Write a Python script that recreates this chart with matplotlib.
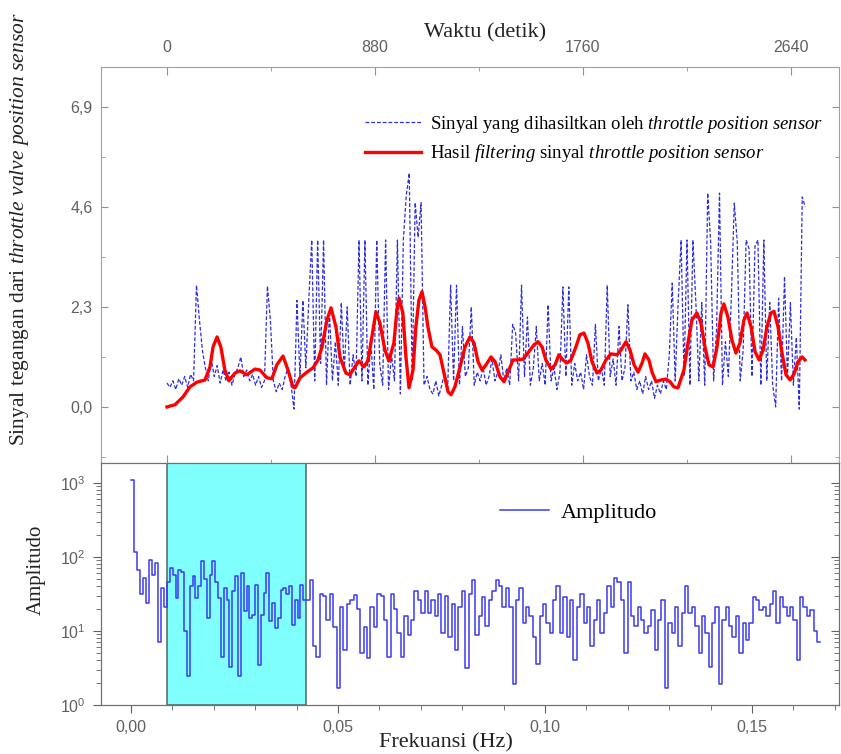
import numpy as np
import matplotlib.pyplot as plt
from matplotlib.ticker import MultipleLocator, FuncFormatter, LogLocator, NullFormatter

# sinyal throttle position sensor, sampel tiap 12,5 detik
dt = 12.5
sinyal = [
    0.55, 0.45, 0.6, 0.4, 0.65, 0.5, 0.7, 0.45, 0.75, 0.6,
    2.8, 2.0, 1.3, 0.9, 0.6, 1.1, 0.7, 0.95, 0.55, 0.85,
    0.6, 0.8, 0.5, 0.75, 0.9, 1.15, 0.7, 0.85, 0.6, 0.75,
    0.5, 0.7, 0.45, 0.6, 2.78, 2.0, 0.6, 0.35, 0.55, 0.4,
    0.7, 0.9, 0.5, -0.05, 2.45, 0.7, 2.45, 0.9, 2.45, 3.84,
    0.6, 3.84, 1.0, 3.84, 0.5, 2.2, 0.6, 1.5, 0.5, 2.4,
    0.8, 2.3, 0.5, 1.2, 0.7, 3.84, 0.6, 3.84, 0.5, 1.5,
    0.4, 3.84, 1.0, 0.5, 3.84, 0.4, 1.2, 0.6, 3.84, 0.3,
    3.84, 4.87, 5.38, 0.6, 4.7, 3.9, 4.7, 0.5, 0.7, 0.4,
    0.3, 0.6, 0.25, 0.5, 0.8, 0.4, 2.8, 0.6, 2.8, 0.5,
    1.85, 0.7, 0.9, 2.3, 0.5, 0.8, 0.6, 0.9, 0.5, 0.7,
    1.1, 0.6, 0.8, 1.2, 0.6, 0.9, 0.5, 1.9, 1.7, 0.6,
    2.8, 0.7, 2.07, 0.5, 0.9, 1.85, 0.6, 1.0, 0.5, 2.35,
    0.6, 0.9, 0.4, 0.8, 2.76, 0.7, 2.76, 0.5, 1.0, 0.6,
    0.8, 0.4, 1.2, 0.7, 0.5, 1.9, 0.6, 0.9, 0.5, 2.8,
    0.7, 1.1, 0.5, 1.85, 0.6, 0.9, 2.35, 0.6, 0.8, 0.4,
    0.6, 0.3, 0.7, 0.4, 0.6, 0.2, 0.5, 0.3, 0.6, 0.4,
    1.2, 2.85, 0.6, 2.4, 3.84, 0.7, 3.84, 0.5, 3.84, 2.4,
    0.6, 2.4, 0.5, 4.92, 3.8, 0.6, 1.8, 4.92, 0.5, 1.5,
    0.7, 2.5, 4.69, 3.8, 0.6, 1.3, 3.84, 3.64, 0.7, 3.7,
    3.84, 0.5, 3.84, 0.6, 2.4, 0.5, 0.0, 2.5, 0.6, 3.0,
    0.7, 2.4, 0.5, 1.6, -0.05, 4.83, 4.6,
]

# hasil filtering
waktu_filter = [
    0, 34, 68, 97, 127, 161, 182, 195, 212, 228,
    245, 262, 288, 309, 338, 372, 393, 423, 444, 465,
    491, 512, 533, 542, 563, 592, 618, 639, 656, 677,
    694, 715, 732, 757, 774, 795, 812, 833, 850, 867,
    884, 901, 922, 939, 960, 973, 982, 998, 1011, 1024,
    1041, 1053, 1066, 1079, 1092, 1104, 1121, 1138, 1155, 1172,
    1189, 1202, 1218, 1240, 1261, 1282, 1299, 1316, 1333, 1350,
    1371, 1388, 1409, 1426, 1443, 1464, 1485, 1506, 1527, 1553,
    1570, 1587, 1603, 1625, 1642, 1658, 1675, 1692, 1709, 1730,
    1747, 1764, 1781, 1798, 1819, 1836, 1857, 1878, 1904, 1921,
    1942, 1959, 1976, 1993, 2010, 2022, 2039, 2052, 2069, 2090,
    2111, 2128, 2145, 2162, 2187, 2204, 2221, 2242, 2259, 2276,
    2293, 2310, 2327, 2344, 2356, 2373, 2390, 2407, 2424, 2441,
    2454, 2471, 2488, 2505, 2522, 2538, 2555, 2568, 2585, 2602,
    2619, 2636, 2653, 2670, 2687, 2699,
]
sinyal_filter = [
    0.0, 0.05, 0.23, 0.46, 0.57, 0.62, 0.92, 1.38, 1.61, 1.38,
    0.85, 0.6, 0.78, 0.83, 0.74, 0.87, 0.85, 0.67, 0.65, 0.97,
    1.17, 0.85, 0.46, 0.44, 0.67, 0.8, 0.9, 1.08, 1.38, 2.0,
    2.28, 1.84, 1.15, 0.78, 0.74, 0.92, 1.06, 0.92, 1.06, 1.61,
    2.19, 1.93, 1.31, 1.06, 1.47, 2.23, 2.5, 2.16, 1.15, 0.44,
    0.85, 1.84, 2.46, 2.65, 2.3, 1.84, 1.38, 1.31, 1.2, 0.78,
    0.35, 0.28, 0.46, 0.92, 1.38, 1.61, 1.47, 1.04, 0.85, 0.97,
    1.15, 1.04, 0.69, 0.58, 0.8, 1.08, 1.08, 1.1, 1.24, 1.43,
    1.5, 1.38, 1.08, 0.87, 0.97, 1.2, 1.08, 1.01, 1.08, 1.38,
    1.66, 1.7, 1.47, 1.04, 0.78, 0.85, 1.08, 1.22, 1.2, 1.31,
    1.5, 1.31, 0.97, 0.8, 1.01, 1.22, 1.08, 0.8, 0.58, 0.62,
    0.64, 0.58, 0.46, 0.44, 0.85, 1.47, 2.0, 2.16, 1.93, 1.38,
    0.97, 0.92, 1.38, 2.16, 2.37, 2.07, 1.54, 1.24, 1.47, 2.0,
    2.16, 1.84, 1.27, 1.08, 1.31, 1.84, 2.16, 2.2, 1.84, 1.24,
    0.74, 0.62, 0.76, 1.04, 1.15, 1.08,
]

# spektrum amplitudo
f_band_lo = 0.0087
f_band_hi = 0.0423
f_max = 0.1665
amp_low = [1100, 117, 66, 32, 52, 24, 91, 57, 83, 7, 38, 21]
amp_band = [
    46, 72, 57, 28, 66, 63, 10, 2.5, 40, 56, 28, 40, 89, 50, 15, 57, 89,
    46, 28, 4.4, 38, 26, 3.3, 35, 56, 2.5, 60, 18.6, 40, 15, 16.6, 42,
    3.5, 16.6, 33, 60, 13.5, 24, 11, 15, 36, 38, 32, 40, 12, 26, 15, 42, 26,
]
amp_high = [
    26, 49, 6.2, 4.5, 32, 29.5, 14, 32, 11.2, 1.7, 21, 5.5, 23, 26, 31,
    20, 5, 11.2, 4.3, 21, 11.2, 32, 29.5, 14, 4.5, 32, 20, 9.3, 4.5, 16,
    8.9, 14, 35, 26, 17.4, 35, 17.4, 26, 16, 32, 9.3, 29.5, 8.3, 23, 5.5,
    21, 35, 3.2, 32, 49, 8.9, 16, 29, 11.7, 26,
    35, 49, 40, 21, 38, 21, 1.9, 26, 38, 12.9,
    21, 16, 8.3, 3.6, 16, 23, 12.9, 9.3, 26, 40,
    9.3, 29, 8.3, 26, 4, 21, 32, 12.9, 21, 6.2,
    14, 26, 9.3, 17.4, 40, 21, 52, 46, 26, 5,
    46, 16, 11.7, 21, 14, 9.3, 11.7, 19, 5.5, 14,
    26, 1.7, 12.9, 9.3, 21, 6.2, 17.4, 40, 17.4, 21,
    11.7, 5, 16, 9.3, 3.3, 12.9, 21, 1.9, 14, 21,
    11.7, 8.3, 16, 5, 12.9, 7.6, 12.9, 29, 26, 19,
    21, 16, 23, 35, 12.9, 29, 21, 16, 21, 14,
    4, 29, 21, 16, 19, 10, 7,
]

plt.rcParams['font.family'] = ['Liberation Sans', 'DejaVu Sans']
plt.rcParams['mathtext.fontset'] = 'custom'
plt.rcParams['mathtext.rm'] = 'Liberation Serif'
plt.rcParams['mathtext.it'] = 'Liberation Serif:italic'

serif = 'Liberation Serif'
tick_col = '#606060'

waktu = np.arange(len(sinyal)) * dt
edges = np.concatenate([
    np.linspace(0, f_band_lo, len(amp_low), endpoint=False),
    np.linspace(f_band_lo, f_band_hi, len(amp_band), endpoint=False),
    np.linspace(f_band_hi, f_max, len(amp_high), endpoint=False),
    [f_max],
])
amp = np.array(amp_low + amp_band + amp_high, dtype=float)

fig = plt.figure(figsize=(8.41, 7.54), dpi=100)
left, right = 101 / 841, 839 / 841
ax1 = fig.add_axes([left, 1 - 463 / 754, right - left, 396 / 754])
ax2 = fig.add_axes([left, 1 - 705 / 754, right - left, 242 / 754])

# panel atas
ax1.plot(waktu, sinyal, color='#2d2de0', lw=0.9, ls=(0, (3, 1.6)),
         label=r'Sinyal yang dihasiltkan oleh $\mathit{throttle\ position\ sensor}$')
ax1.plot(waktu_filter, sinyal_filter, color='#ff0000', lw=2.4,
         label=r'Hasil $\mathit{filtering}$ sinyal $\mathit{throttle\ position\ sensor}$')
ax1.set_xlim(-279, 2843)
ax1.set_ylim(-1.29, 7.82)
ax1.set_xticks([0, 880, 1760, 2640])
ax1.xaxis.set_minor_locator(MultipleLocator(440))
ax1.set_yticks([0, 2.3, 4.6, 6.9])
ax1.yaxis.set_minor_locator(MultipleLocator(1.15))
ax1.yaxis.set_major_formatter(FuncFormatter(lambda v, p: f"{v:.1f}".replace('.', ',')))
ax1.tick_params(axis='both', which='both', direction='in', top=True, bottom=True,
                left=True, right=True, labeltop=True, labelbottom=False,
                colors='#909090', labelcolor=tick_col, labelsize=11.5)
ax1.tick_params(axis='x', which='major', length=6, pad=9)
ax1.tick_params(axis='y', which='major', length=5, pad=6)
ax1.tick_params(which='minor', length=3)
for s in ax1.spines.values():
    s.set_color('#a0a0a0')
ax1.legend(loc='upper left', bbox_to_anchor=(365 / 841, 1 - 114 / 754),
           bbox_transform=fig.transFigure, frameon=False,
           prop={'family': serif, 'size': 13.5}, handlelength=3.0,
           handletextpad=0.45, labelspacing=0.4, borderpad=0, borderaxespad=0)

# panel bawah
ax2.axvspan(f_band_lo, f_band_hi, facecolor='#80ffff', edgecolor='#5a7070', lw=1.2, zorder=0)
ax2.step(edges, np.append(amp, amp[-1]), where='post', color='#3b3bf0', lw=1.1,
         label='Amplitudo')
ax2.set_yscale('log')
ax2.set_ylim(1, 10 ** 3.27)
ax2.set_xlim(-0.00725, 0.171)
ax2.set_xticks([0, 0.05, 0.10, 0.15])
ax2.xaxis.set_minor_locator(MultipleLocator(0.01))
ax2.xaxis.set_major_formatter(FuncFormatter(lambda v, p: f"{v:.2f}".replace('.', ',')))
ax2.yaxis.set_major_locator(LogLocator(base=10, numticks=10))
ax2.yaxis.set_minor_locator(LogLocator(base=10, subs=np.arange(2, 10), numticks=20))
ax2.yaxis.set_minor_formatter(NullFormatter())
ax2.tick_params(axis='both', which='both', direction='out', colors='#606060',
                labelcolor=tick_col, labelsize=11.5, top=False, right=False)
ax2.tick_params(which='major', length=6, pad=5)
ax2.tick_params(which='minor', length=3.5)
for s in ax2.spines.values():
    s.set_color('#707070')

# tick sisi kanan menghadap ke dalam
ax2r = ax2.twinx()
ax2r.set_yscale('log')
ax2r.set_ylim(ax2.get_ylim())
ax2r.yaxis.set_major_locator(LogLocator(base=10, numticks=10))
ax2r.yaxis.set_minor_locator(LogLocator(base=10, subs=np.arange(2, 10), numticks=20))
ax2r.tick_params(axis='y', which='both', direction='in', colors='#606060',
                 labelright=False)
ax2r.tick_params(which='major', length=6)
ax2r.tick_params(which='minor', length=3.5)
for s in ax2r.spines.values():
    s.set_color('#707070')

ax2.legend(loc='upper left', bbox_to_anchor=(500 / 841, 1 - 502 / 754),
           bbox_transform=fig.transFigure, frameon=False,
           prop={'family': serif, 'size': 16}, handlelength=2.2,
           handletextpad=0.55, borderpad=0, borderaxespad=0)

# label sumbu
fig.text(485 / 841, 1 - 33 / 754, 'Waktu (detik)', ha='center', va='center',
         family=serif, size=16, color='#222222')
fig.text(446 / 841, 1 - 743 / 754, 'Frekuansi (Hz)', ha='center', va='center',
         family=serif, size=16, color='#222222')
fig.text(20 / 841, 1 - 229 / 754,
         r'Sinyal tegangan dari $\mathit{throttle\ valve\ position\ sensor}$',
         rotation=90, ha='center', va='center', family=serif, size=15.5, color='#222222')
fig.text(36 / 841, 1 - 570 / 754, 'Amplitudo', rotation=90, ha='center', va='center',
         family=serif, size=15, color='#222222')

fig.savefig('out.png', dpi=100)
